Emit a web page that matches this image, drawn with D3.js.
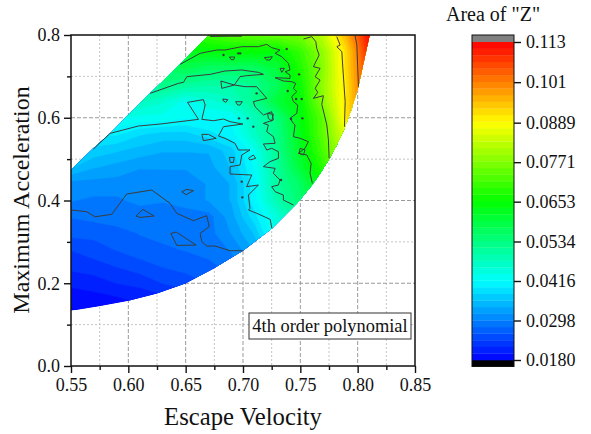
<!doctype html>
<html>
  <head>
    <meta charset="utf-8">
    <title>Area of Z contour</title>
    <script src="https://cdnjs.cloudflare.com/ajax/libs/d3/7.8.5/d3.min.js"></script>
    <style>
      html, body { margin: 0; padding: 0; background: #fff; }
      svg { display: block; }
      text { font-family: "Liberation Serif", serif; fill: #111; }
    </style>
  </head>
  <body>
    <svg width="591" height="434"></svg>
    <script>
      // grid positions of the sampled surface
      var gridX = [0.55, 0.57, 0.59, 0.61, 0.63, 0.65, 0.67, 0.69, 0.71, 0.73, 0.75, 0.77, 0.79, 0.81, 0.83];
      var gridY = [0.80, 0.76, 0.72, 0.68, 0.64, 0.60, 0.56, 0.52, 0.48, 0.44, 0.40, 0.36, 0.32, 0.28, 0.24, 0.20, 0.16, 0.12];

      // Z values, one row per gridY entry
      var row080 = [.060, .060, .062, .064, .066, .068, .071, .073, .074, .075, .076, .083, .096, .112, .118];
      var row076 = [.056, .056, .058, .060, .062, .063, .064, .065, .065, .064, .070, .079, .092, .110, .118];
      var row072 = [.052, .052, .054, .055, .056, .058, .056, .056, .056, .060, .068, .078, .092, .108, .116];
      var row068 = [.048, .048, .050, .051, .053, .051, .050, .050, .052, .057, .066, .079, .091, .108, .116];
      var row064 = [.046, .046, .047, .048, .046, .043, .045, .047, .052, .060, .065, .078, .091, .106, .114];
      var row060 = [.044, .044, .044, .043, .043, .042, .042, .042, .048, .054, .064, .074, .091, .106, .114];
      var row056 = [.040, .040, .040, .038, .037, .037, .039, .041, .047, .053, .063, .074, .087, .100, .110];
      var row052 = [.038, .037, .036, .035, .034, .034, .034, .037, .043, .052, .062, .072, .084, .095, .105];
      var row048 = [.036, .034, .033, .032, .032, .032, .033, .036, .042, .051, .060, .069, .082, .093, .100];
      var row044 = [.031, .031, .031, .0305, .031, .031, .032, .034, .041, .051, .056, .066, .080, .090, .098];
      var row040 = [.030, .0295, .0295, .0305, .030, .031, .032, .034, .041, .049, .055, .064, .078, .088, .095];
      var row036 = [.028, .0285, .029, .0285, .029, .0285, .029, .033, .039, .045, .052, .062, .075, .085, .090];
      var row032 = [.0265, .0265, .027, .028, .0285, .0285, .029, .032, .036, .045, .050, .060, .070, .080, .090];
      var row028 = [.024, .025, .026, .027, .0275, .028, .029, .030, .034, .042, .048, .056, .065, .075, .085];
      var row024 = [.0225, .023, .024, .025, .026, .0265, .027, .029, .033, .040, .046, .052, .060, .070, .080];
      var row020 = [.0205, .021, .022, .0225, .024, .025, .026, .028, .032, .038, .044, .050, .056, .065, .075];
      var row016 = [.0185, .019, .0195, .0205, .021, .022, .024, .026, .030, .036, .042, .048, .054, .060, .070];
      var row012 = [.0175, .018, .018, .019, .019, .020, .022, .024, .028, .034, .040, .046, .052, .058, .065];
      var zRows = [row080, row076, row072, row068, row064, row060, row056, row052, row048,
                   row044, row040, row036, row032, row028, row024, row020, row016, row012];

      // outline of the region that has data, clockwise from the left edge
      var outline = [[0.55, 0.4736], [0.5695, 0.526], [0.5841, 0.5622], [0.6001, 0.6066], [0.619, 0.659],
        [0.6452, 0.7291], [0.6702, 0.80], [0.8105, 0.80], [0.806, 0.7436], [0.8007, 0.6751], [0.7949, 0.6227],
        [0.7885, 0.5743], [0.7818, 0.534], [0.7754, 0.5018], [0.7673, 0.4655], [0.7606, 0.4389], [0.7484, 0.397],
        [0.7252, 0.3326], [0.6999, 0.2786], [0.6743, 0.2359], [0.6495, 0.1996], [0.6248, 0.1755], [0.6001, 0.1577],
        [0.5753, 0.1448], [0.55, 0.1335]];

      // contour lines
      var lineA = [[.55, .377], [.5637, .3729], [.571, .3608], [.5855, .3665], [.5986, .4157], [.6204, .4253], [.6364, .3931],
        [.6423, .3689], [.6568, .3512], [.6684, .3633], [.6705, .3367], [.6626, .3206], [.6641, .3004], [.6684, .2899],
        [.6757, .2899], [.6888, .2786], [.6999, .2786]];
      var lineB = [[.5695, .5244], [.5841, .5622], [.6088, .58], [.6277, .5848], [.6612, .5961], [.6516, .6372], [.6655, .6437],
        [.667, .6308], [.6641, .5961], [.6743, .5929], [.683, .5969], [.6888, .5905], [.6999, .5848], [.683, .5784],
        [.6786, .5558], [.6843, .5503], [.693, .5382], [.6959, .5221], [.7061, .5221], [.6989, .51], [.6974, .4858],
        [.6887, .4818], [.6887, .464], [.7076, .4616], [.7032, .4334], [.7134, .4374], [.7047, .4132], [.7061, .381],
        [.7048, .377], [.7121, .3689], [.7237, .3544], [.7252, .3326]];
      var lineC = [[.619, .659], [.6437, .6831], [.6481, .6856], [.651, .6993], [.6714, .7049], [.6843, .713], [.6989, .7154],
        [.7134, .7097], [.7178, .7049], [.7032, .7017], [.6974, .6993], [.6924, .6791], [.7018, .6751], [.7119, .6751],
        [.7207, .6469], [.709, .6388], [.7105, .6267], [.7178, .6066], [.725, .6146], [.7265, .5945], [.7178, .5864],
        [.7221, .5825], [.7207, .5664], [.7265, .5543], [.728, .5382], [.7178, .5366], [.7207, .5221], [.725, .5261],
        [.7309, .518], [.7309, .5019], [.7236, .4939], [.7178, .4818], [.728, .4777], [.7265, .4656], [.7323, .4495],
        [.7309, .4374], [.725, .4334], [.728, .4213], [.7352, .4132], [.7352, .4011], [.744, .3891]];
      var lineD = [[.6452, .7291], [.6626, .7557], [.6772, .7638], [.6843, .7637], [.6989, .7718], [.7134, .7718], [.7207, .7774],
        [.725, .7694], [.7323, .7637], [.728, .7557], [.7338, .7476], [.7396, .7315], [.741, .7154], [.7367, .7113],
        [.741, .7033], [.741, .6952], [.728, .6968], [.7352, .6888], [.7425, .6872], [.746, .6831], [.744, .671],
        [.7469, .663], [.7425, .6509], [.744, .6388], [.7477, .6307], [.7469, .6106], [.741, .5985], [.744, .5864],
        [.7454, .5825], [.744, .5543], [.7498, .5503], [.757, .5422], [.7541, .5261], [.7483, .514], [.7556, .51],
        [.7594, .4898], [.7585, .4656], [.7605, .4415]];
      var lineE = [[.7527, .7903], [.76, .796], [.7635, .7839], [.7643, .7678], [.7664, .7516], [.7614, .7234], [.7672, .7194],
        [.7629, .6992], [.7672, .6912], [.7629, .671], [.7652, .6614], [.7614, .6469], [.7701, .6533], [.7687, .6324],
        [.771, .6066], [.7731, .5824], [.7745, .5461], [.7751, .5018]];
      var lineF = [[.7818, .796], [.7847, .7758], [.7818, .7718], [.7862, .7597], [.7871, .7194], [.7891, .6388], [.7885, .5784]];
      var lineG = [[.7978, .7976], [.7993, .7758], [.8007, .6751]];
      var lineH = [[.6714, .7965], [.6888, .797], [.6990, .797]];
      var openLines = [lineA, lineB, lineC, lineD, lineE, lineF, lineG, lineH];

      // closed islands
      var loop1 = [[.6067, .3625], [.6126, .3786], [.6225, .3625], [.6102, .3592]];
      var loop2 = [[.637, .3205], [.6417, .3238], [.6591, .2923], [.6423, .2915]];
      var loop3 = [[.6466, .4213], [.651, .4269], [.6568, .4237], [.6504, .414]];
      var loop4 = [[.6641, .5598], [.6699, .5598], [.6766, .5502], [.6655, .5445]];
      var loop5 = [[.6882, .5042], [.6923, .5042], [.6917, .4921], [.6888, .4921]];
      var loop6 = [[.7047, .5019], [.709, .51], [.7111, .5019], [.7061, .4979]];
      var loop7 = [[.6807, .6888], [.6924, .6791], [.6815, .6711]];
      var loop8 = [[.6824, .6453], [.6868, .6437], [.685, .6372], [.683, .6404]];
      var loop9 = [[.6936, .6388], [.6994, .6388], [.6974, .6308], [.6953, .6308]];
      var loop10 = [[.6882, .7468], [.6928, .7468], [.6919, .7404], [.6896, .7404]];
      var loop11 = [[.7186, .7452], [.7256, .7476], [.7236, .7396], [.7207, .7396]];
      var loop12 = [[.7323, .7194], [.7361, .7194], [.7338, .7097]];
      var loop13 = [[.7215, .6106], [.7265, .6082], [.725, .5921], [.7221, .5985]];
      var loop14 = [[.7498, .5261], [.7541, .5221], [.7527, .5100], [.7489, .5140]];
      var loops = [loop1, loop2, loop3, loop4, loop5, loop6, loop7, loop8, loop9, loop10, loop11, loop12, loop13, loop14];

      // tiny contour specks
      var specks = [[.6989, .4455], [.6994, .4076], [.7119, .659], [.6965, .5985], [.7041, .5985], [.709, .5785],
        [.683, .7517], [.6959, .7557], [.6975, .7557], [.7381, .7661], [.7489, .7049], [.739, .6646],
        [.7463, .6452], [.7512, .6452], [.7419, .5969], [.7518, .5985], [.7332, .4495]];

      // colour scale stops and colorbar labels
      var colorStops = [0.018, 0.0416, 0.0653, 0.0889, 0.113];
      var colorNames = ["#0000ff", "#00ffff", "#00ff00", "#ffff00", "#ff0000"];
      var barTicks = [0.0180, 0.0298, 0.0416, 0.0534, 0.0653, 0.0771, 0.0889, 0.101, 0.113];
      var barLabels = ["0.0180", "0.0298", "0.0416", "0.0534", "0.0653", "0.0771", "0.0889", "0.101", "0.113"];
      var levelCount = 48;

      var xMajor = [0.55, 0.60, 0.65, 0.70, 0.75, 0.80, 0.85];
      var xMinor = [0.575, 0.625, 0.675, 0.725, 0.775, 0.825];
      var yMajor = [0.0, 0.2, 0.4, 0.6, 0.8];
      var yMinor = [0.1, 0.3, 0.5, 0.7];

      var svg = d3.select("svg");
      var x = d3.scaleLinear().domain([0.55, 0.85]).range([71, 415]);
      var y = d3.scaleLinear().domain([0, 0.8]).range([366, 35]);
      var color = d3.scaleLinear().domain(colorStops).range(colorNames);
      var barY = d3.scaleLinear().domain([0.018, 0.113]).range([360, 42]);

      var step = (0.113 - 0.018) / levelCount;
      var levels = d3.range(levelCount).map(function(i) { return 0.018 + i * step; });

      // grid lines go under the surface
      var grid = svg.append("g");
      function gridLines(vals, isX, stroke, dash) {
        grid.selectAll(null).data(vals).enter().append("line")
          .attr("x1", function(d) { return isX ? x(d) : 71; })
          .attr("x2", function(d) { return isX ? x(d) : 415; })
          .attr("y1", function(d) { return isX ? 35 : y(d); })
          .attr("y2", function(d) { return isX ? 366 : y(d); })
          .attr("stroke", stroke)
          .attr("stroke-width", 1)
          .attr("stroke-dasharray", dash);
      }
      gridLines(xMinor, true, "#c4c4c4", "2,2");
      gridLines(yMinor, false, "#c4c4c4", "2,2");
      gridLines(xMajor.slice(1, 6), true, "#9a9a9a", "4,2");
      gridLines(yMajor.slice(1, 4), false, "#9a9a9a", "4,2");

      // surface
      var lineGen = d3.line().x(function(d) { return x(d[0]); }).y(function(d) { return y(d[1]); });
      svg.append("clipPath").attr("id", "region").append("path")
        .attr("d", lineGen(outline) + "Z");

      var cols = gridX.length, rows = gridY.length;
      var flat = [].concat.apply([], zRows);
      var contours = d3.contours().size([cols, rows]).thresholds(levels)(flat);
      var dx = gridX[1] - gridX[0], dy = gridY[1] - gridY[0];
      var toPx = d3.geoTransform({
        point: function(gx, gy) {
          this.stream.point(x(gridX[0] + (gx - 0.5) * dx), y(gridY[0] + (gy - 0.5) * dy));
        }
      });
      var geoPath = d3.geoPath(toPx);

      var surface = svg.append("g").attr("clip-path", "url(#region)");
      surface.append("path").attr("d", lineGen(outline) + "Z").attr("fill", color(0.018));
      surface.selectAll("path.band").data(contours).enter().append("path")
        .attr("class", "band")
        .attr("d", geoPath)
        .attr("fill", function(d) { return color(d.value + step / 2); })
        .attr("stroke", function(d) { return color(d.value + step / 2); })
        .attr("stroke-width", 0.4);

      // contour lines
      var lines = svg.append("g").attr("fill", "none").attr("stroke", "#3c3c3c").attr("stroke-width", 1);
      lines.selectAll("path.open").data(openLines).enter().append("path")
        .attr("class", "open").attr("d", lineGen);
      lines.selectAll("path.loop").data(loops).enter().append("path")
        .attr("class", "loop").attr("d", function(d) { return lineGen(d) + "Z"; });
      svg.append("g").selectAll("circle").data(specks).enter().append("circle")
        .attr("cx", function(d) { return x(d[0]); })
        .attr("cy", function(d) { return y(d[1]); })
        .attr("r", 1.2)
        .attr("fill", "#3c3c3c");

      // axes
      function axisFont(g, size) {
        g.selectAll("text").attr("font-size", size).attr("font-family", "Liberation Serif");
        g.selectAll("line, path").attr("stroke", "#111").attr("stroke-width", 1.4);
      }
      var xAxis = svg.append("g").attr("transform", "translate(0,366)")
        .call(d3.axisBottom(x).tickValues(xMajor).tickFormat(d3.format(".2f")).tickSize(7).tickPadding(5));
      xAxis.select(".domain").remove();
      axisFont(xAxis, 18);
      var xAxisMinor = svg.append("g").attr("transform", "translate(0,366)")
        .call(d3.axisBottom(x).tickValues(xMinor).tickFormat("").tickSize(4));
      xAxisMinor.select(".domain").remove();
      axisFont(xAxisMinor, 18);

      var yAxis = svg.append("g").attr("transform", "translate(71,0)")
        .call(d3.axisLeft(y).tickValues(yMajor).tickFormat(d3.format(".1f")).tickSize(7).tickPadding(4));
      yAxis.select(".domain").remove();
      axisFont(yAxis, 18);
      var yAxisMinor = svg.append("g").attr("transform", "translate(71,0)")
        .call(d3.axisLeft(y).tickValues(yMinor).tickFormat("").tickSize(4));
      yAxisMinor.select(".domain").remove();
      axisFont(yAxisMinor, 18);

      svg.append("rect").attr("x", 71).attr("y", 35).attr("width", 344).attr("height", 331)
        .attr("fill", "none").attr("stroke", "#111").attr("stroke-width", 1.5);

      svg.append("text").attr("x", 243).attr("y", 425).attr("text-anchor", "middle")
        .attr("font-size", 24.7).text("Escape Velocity");
      svg.append("text").attr("transform", "translate(29,200) rotate(-90)").attr("text-anchor", "middle")
        .attr("font-size", 24).text("Maximum Acceleration");

      // note box
      svg.append("rect").attr("x", 249).attr("y", 313).attr("width", 162).attr("height", 26)
        .attr("fill", "#fff").attr("stroke", "#333").attr("stroke-width", 1);
      svg.append("text").attr("x", 330).attr("y", 332).attr("text-anchor", "middle")
        .attr("font-size", 18.4).text("4th order polynomial");

      // colorbar
      var bar = svg.append("g");
      bar.append("rect").attr("x", 472).attr("y", 35).attr("width", 42).attr("height", 7).attr("fill", "#808080");
      bar.append("rect").attr("x", 472).attr("y", 360).attr("width", 42).attr("height", 6.5).attr("fill", "#000");
      bar.selectAll("rect.level").data(levels).enter().append("rect")
        .attr("class", "level")
        .attr("x", 472)
        .attr("width", 42)
        .attr("y", function(d) { return barY(d + step); })
        .attr("height", barY(0.018) - barY(0.018 + step) + 0.3)
        .attr("fill", function(d) { return color(d + step / 2); });
      bar.append("rect").attr("x", 472).attr("y", 35).attr("width", 42).attr("height", 331.5)
        .attr("fill", "none").attr("stroke", "#111").attr("stroke-width", 1);

      var barAxis = svg.append("g").attr("transform", "translate(514,0)")
        .call(d3.axisRight(barY).tickValues(barTicks)
          .tickFormat(function(d, i) { return barLabels[i]; }).tickSize(7).tickPadding(5));
      barAxis.select(".domain").remove();
      axisFont(barAxis, 18);

      svg.append("text").attr("x", 446).attr("y", 21).attr("font-size", 20).text('Area of "Z"');
    </script>
  </body>
</html>
